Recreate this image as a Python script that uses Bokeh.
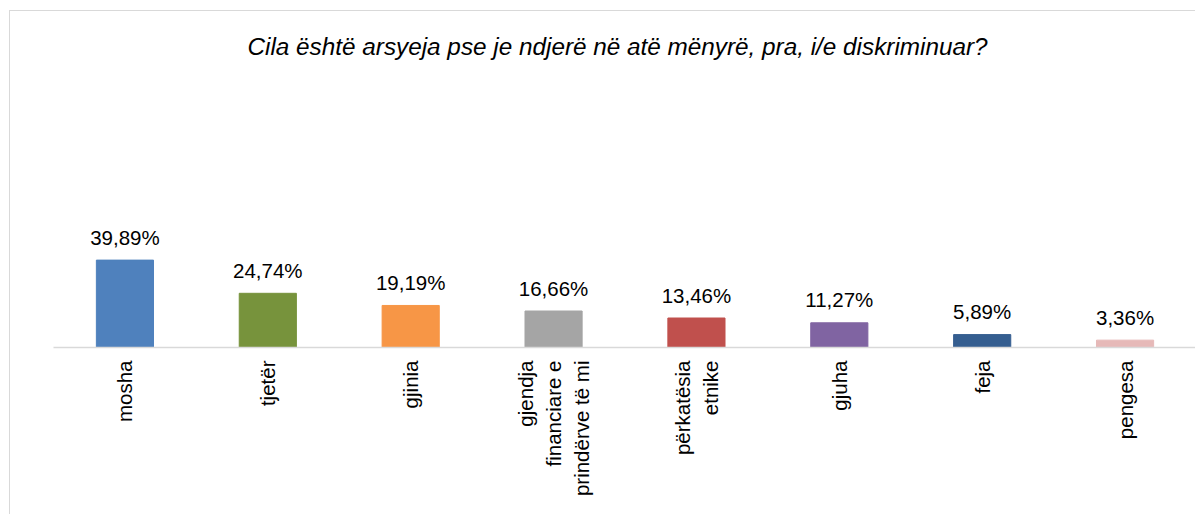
import math
from bokeh.plotting import figure
from bokeh.models import ColumnDataSource, Range1d, FactorRange
from bokeh.core.properties import value
from bokeh.embed import file_html
from bokeh.resources import INLINE

categories = ["mosha", "tjetër", "gjinia", "gjendja\nfinanciare e\nprindërve të mi",
              "përkatësia\netnike", "gjuha", "feja", "pengesa"]
values = [39.89, 24.74, 19.19, 16.66, 13.46, 11.27, 5.89, 3.36]
labels = ["39,89%", "24,74%", "19,19%", "16,66%", "13,46%", "11,27%", "5,89%", "3,36%"]
colors = ["#4f81bd", "#77933c", "#f79646", "#a5a5a5", "#c0504d", "#8064a2", "#355e90", "#e6b9b8"]
title = "Cila është arsyeja pse je ndjerë në atë mënyrë, pra, i/e diskriminuar?"

src = ColumnDataSource(dict(cat=categories, val=values, lab=labels, col=colors))

p = figure(x_range=FactorRange(*categories), y_range=Range1d(0, 126.9),
           width=1186, height=504, output_backend="svg", toolbar_location=None,
           min_border_left=43, min_border_right=0, min_border_top=58, min_border_bottom=168)
p.styles = {"margin-left": "9px", "margin-top": "10px",
            "border-left": "1px solid #d9d9d9", "border-top": "1px solid #d9d9d9"}

p.vbar(x="cat", top="val", width=0.4, color="col", source=src)
p.text(x="cat", y="val", text="lab", source=src, text_align="center",
       text_baseline="alphabetic", y_offset=-23, text_font=value("Liberation Sans"),
       text_font_size="20.5px", text_color="#000000")

p.title.text = title
p.title.align = "left"
p.title.offset = 194
p.title.text_font = "Liberation Sans"
p.title.text_font_style = "italic"
p.title.text_font_size = "24.3px"
p.title.text_color = "#000000"
p.title.standoff = 20

p.yaxis.visible = False
p.xgrid.visible = False
p.ygrid.visible = False
p.outline_line_color = None

ax = p.xaxis[0]
ax.axis_line_color = "#d9d9d9"
ax.axis_line_width = 1.5
ax.major_tick_line_color = None
ax.minor_tick_line_color = None
ax.major_tick_out = 0
ax.major_tick_in = 0
ax.minor_tick_out = 0
ax.major_label_orientation = math.pi / 2
ax.major_label_standoff = 13
ax.major_label_text_font = "Liberation Sans"
ax.major_label_text_font_size = "20.5px"
ax.major_label_text_color = "#000000"

open("out.html", "w").write(file_html(p, INLINE))
